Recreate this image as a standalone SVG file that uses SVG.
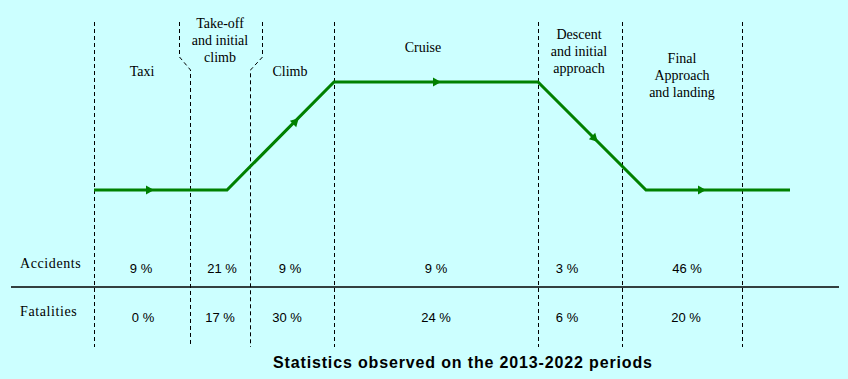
<svg xmlns="http://www.w3.org/2000/svg" width="848" height="379" viewBox="0 0 848 379">
<style>
.lbl{font-family:"Liberation Serif","Times New Roman",serif;font-size:14px;fill:#000;text-anchor:middle}
.row{font-family:"Liberation Serif","Times New Roman",serif;font-size:14px;fill:#000;letter-spacing:0.6px}
.pct{font-family:"Liberation Sans",Arial,sans-serif;font-size:13px;fill:#000;text-anchor:middle}
.title{font-family:"Liberation Sans",Arial,sans-serif;font-size:16px;font-weight:bold;fill:#000;letter-spacing:0.85px}
.dash{stroke:#000;stroke-width:1;stroke-dasharray:4 3;fill:none}
.flight{stroke:#008000;stroke-width:3;fill:none;stroke-linejoin:miter}
.ah{fill:#008000}
</style>
<rect width="848" height="379" fill="#CCFFFF"/>
<g id="phase-dividers">
<line class="dash" x1="94.5" y1="22" x2="94.5" y2="347"/>
<path class="dash" d="M179.5,22 V57 L190.5,70 V347"/>
<path class="dash" d="M262.5,22 V57 L250.5,70 V347"/>
<line class="dash" x1="334.5" y1="22" x2="334.5" y2="347"/>
<line class="dash" x1="538.5" y1="22" x2="538.5" y2="347"/>
<line class="dash" x1="622.5" y1="22" x2="622.5" y2="347"/>
<line class="dash" x1="742.5" y1="22" x2="742.5" y2="347"/>
</g>
<g id="connectors">
<path id="flight-profile" class="flight" d="M94,190 H227 L334,82 H538 L646,190 H790"/>
<polygon class="ah" points="1,0 -7,-4.5 -7,4.5" transform="translate(153,190)"/>
<polygon class="ah" points="1,0 -7,-4.5 -7,4.5" transform="translate(298,119) rotate(-45)"/>
<polygon class="ah" points="1,0 -7,-4.5 -7,4.5" transform="translate(440,82)"/>
<polygon class="ah" points="1,0 -7,-4.5 -7,4.5" transform="translate(597,141) rotate(45)"/>
<polygon class="ah" points="1,0 -7,-4.5 -7,4.5" transform="translate(705,190)"/>
</g>
<g id="node-taxi"><text class="lbl" x="142" y="76">Taxi</text></g>
<g id="node-takeoff">
<text class="lbl" x="220" y="28">Take-off</text>
<text class="lbl" x="220" y="45">and initial</text>
<text class="lbl" x="220" y="62">climb</text>
</g>
<g id="node-climb"><text class="lbl" x="290" y="76">Climb</text></g>
<g id="node-cruise"><text class="lbl" x="423" y="52">Cruise</text></g>
<g id="node-descent">
<text class="lbl" x="579" y="39">Descent</text>
<text class="lbl" x="579" y="56">and initial</text>
<text class="lbl" x="579" y="73">approach</text>
</g>
<g id="node-final">
<text class="lbl" x="682" y="63">Final</text>
<text class="lbl" x="682" y="80">Approach</text>
<text class="lbl" x="682" y="97">and landing</text>
</g>
<g id="table">
<line x1="11" y1="287" x2="839" y2="287" stroke="#000" stroke-width="1.3"/>
<text class="row" x="20" y="268">Accidents</text>
<text class="row" x="20" y="316">Fatalities</text>
<text class="pct" x="141" y="273">9 %</text>
<text class="pct" x="222" y="273">21 %</text>
<text class="pct" x="290" y="273">9 %</text>
<text class="pct" x="436" y="273">9 %</text>
<text class="pct" x="567" y="273">3 %</text>
<text class="pct" x="687" y="273">46 %</text>
<text class="pct" x="143" y="322">0 %</text>
<text class="pct" x="220" y="322">17 %</text>
<text class="pct" x="287" y="322">30 %</text>
<text class="pct" x="436" y="322">24 %</text>
<text class="pct" x="567" y="322">6 %</text>
<text class="pct" x="686" y="322">20 %</text>
</g>
<g id="caption"><text class="title" x="273" y="368">Statistics observed on the 2013-2022 periods</text></g>
</svg>
